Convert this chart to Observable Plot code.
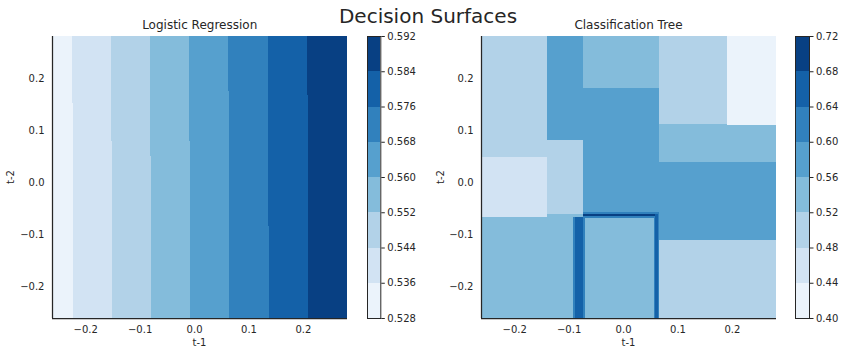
<!DOCTYPE html>
<html><head><meta charset="utf-8">
<script src="https://cdn.jsdelivr.net/npm/d3@7"></script>
<script src="https://cdn.jsdelivr.net/npm/@observablehq/plot@0.6"></script>
<style>
body{margin:0;background:#fff;font-family:"DejaVu Sans",sans-serif;color:#262626}
#chart{position:relative;width:844px;height:356px;overflow:hidden;background:#fff}
.lbl{position:absolute;transform:translate(-50%,-50%);white-space:nowrap;line-height:1;color:#262626;font-family:"DejaVu Sans",sans-serif}
</style></head><body><div id="chart"></div>
<script>
// ---- data ----
const axisLimits = [-0.261, 0.281];
const axisTicks = [-0.2, -0.1, 0, 0.1, 0.2];
const blues8 = ["#ebf3fb","#d2e3f3","#b2d2e8","#84bcdb","#56a0ce","#3181bd","#1461a8","#084083"];

// Logistic regression: contour levels and, for each inner level (0.536 … 0.584),
// its t-1 position in the upper part and lower part, and the t-2 where it steps.
const lrLevels = [0.528, 0.536, 0.544, 0.552, 0.560, 0.568, 0.576, 0.584, 0.592];
const lrTopX    = [-0.2243, -0.1531, -0.0814, -0.0097, 0.0619, 0.1355, 0.2066];
const lrBottomX = [-0.2230, -0.1513, -0.0796, -0.0079, 0.0651, 0.1373, 0.2090];
const lrStepY   = [0.1525, 0.0794, 0.0506, 0.0788, 0.1756, -0.0846, 0.1673];

// Classification tree: contour levels and leaf regions [t1 from, t1 to, t2 from, t2 to, probability]
const treeLevels = [0.40, 0.44, 0.48, 0.52, 0.56, 0.60, 0.64, 0.68, 0.72];
const treeLeaves = [
  [-0.261, -0.0736, -0.261, -0.062, 0.54],
  [-0.261, -0.139, -0.066, 0.0487, 0.46],
  [-0.261, -0.139, 0.0487, 0.281, 0.50],
  [-0.139, -0.0736, -0.062, 0.082, 0.50],
  [-0.139, -0.0736, 0.082, 0.281, 0.58],
  [-0.0736, 0.0657, -0.0577, 0.1813, 0.58],
  [-0.0736, 0.0657, 0.1813, 0.281, 0.54],
  [0.0657, 0.281, -0.1102, 0.0385, 0.58],
  [0.0657, 0.281, 0.0385, 0.1115, 0.54],
  [0.0657, 0.1914, 0.1115, 0.281, 0.50],
  [0.1914, 0.281, 0.1096, 0.281, 0.42],
  [0.0668, 0.281, -0.261, -0.1102, 0.50],
  [-0.0705, 0.0570, -0.261, -0.0679, 0.54],
  [-0.0914, -0.0705, -0.261, -0.0667, 0.62],
  [-0.0878, -0.0742, -0.261, -0.0667, 0.66],
  [-0.0736, 0.0668, -0.0679, -0.0577, 0.62],
  [0.0570, 0.0668, -0.261, -0.0577, 0.62],
  [-0.0736, 0.0638, -0.0654, -0.0610, 0.70],
  [0.0589, 0.0638, -0.261, -0.0610, 0.66]
];

// ---- build tables ----
const mid = (lv, i) => (lv[i] + lv[i + 1]) / 2;
const lrRects = [{x1: axisLimits[0], x2: axisLimits[1], y1: axisLimits[0], y2: axisLimits[1], p: mid(lrLevels, 0)}];
lrTopX.forEach((x, i) => {
  const p = mid(lrLevels, i + 1);
  lrRects.push({x1: x, x2: axisLimits[1], y1: lrStepY[i], y2: axisLimits[1], p});
  lrRects.push({x1: lrBottomX[i], x2: axisLimits[1], y1: axisLimits[0], y2: lrStepY[i], p});
});
const treeRects = treeLeaves.map(([x1, x2, y1, y2, p]) => ({x1, x2, y1, y2, p}));

const chart = document.getElementById("chart");
const TXT = "#262626";
const baseStyle = {fontFamily: "DejaVu Sans", fontSize: "10px", color: TXT, background: "transparent", overflow: "visible"};

function place(el, left) {
  el.style.position = "absolute";
  el.style.left = left + "px";
  el.style.top = "0px";
  chart.appendChild(el);
}
function label(text, x, y, size, rotate) {
  const d = document.createElement("div");
  d.className = "lbl";
  d.textContent = text;
  d.style.left = x + "px";
  d.style.top = y + "px";
  d.style.fontSize = size + "px";
  if (rotate) d.style.transform = "translate(-50%,-50%) rotate(-90deg)";
  chart.appendChild(d);
}

function surface(left, rects, levels) {
  const svg = Plot.plot({
    width: 360, height: 356,
    marginLeft: 52, marginRight: 13, marginTop: 36, marginBottom: 38,
    style: baseStyle,
    x: {domain: axisLimits, label: null},
    y: {domain: axisLimits, label: null},
    color: {type: "threshold", domain: levels.slice(1, -1), range: blues8},
    marks: [
      Plot.rect(rects, {x1: "x1", x2: "x2", y1: "y1", y2: "y2", fill: "p", shapeRendering: "crispEdges"}),
      Plot.axisX({ticks: axisTicks, tickFormat: ".1f", tickSize: 0, tickPadding: 7, label: null}),
      Plot.axisY({ticks: axisTicks, tickFormat: ".1f", tickSize: 0, tickPadding: 8, label: null}),
      Plot.ruleX([axisLimits[0]], {stroke: TXT, strokeWidth: 1.25}),
      Plot.ruleY([axisLimits[0]], {stroke: TXT, strokeWidth: 1.25})
    ]
  });
  place(svg, left);
}

function colorbar(left, width, marginLeft, barWidth, levels, fmt) {
  const bands = d3.range(levels.length - 1).map(i => ({y1: levels[i], y2: levels[i + 1], p: mid(levels, i)}));
  const svg = Plot.plot({
    width, height: 356,
    marginLeft, marginRight: width - marginLeft - barWidth, marginTop: 36, marginBottom: 38,
    style: baseStyle,
    y: {domain: [levels[0], levels[levels.length - 1]], label: null},
    color: {type: "threshold", domain: levels.slice(1, -1), range: blues8},
    marks: [
      Plot.barY(bands, {y1: "y1", y2: "y2", fill: "p", shapeRendering: "crispEdges"}),
      Plot.frame({stroke: TXT, strokeWidth: 1}),
      Plot.axisY({anchor: "right", ticks: levels, tickFormat: fmt, tickSize: 3.5, tickPadding: 3, label: null, stroke: TXT})
    ]
  });
  place(svg, left);
}

surface(0, lrRects, lrLevels);
colorbar(355, 65, 12, 13.3, lrLevels, ".3f");
surface(429, treeRects, treeLevels);
colorbar(784, 60, 11, 14, treeLevels, ".2f");

label("Decision Surfaces", 428, 15.5, 20);
label("Logistic Regression", 199.7, 25, 12);
label("Classification Tree", 628.5, 25, 12);
label("t-1", 199.5, 343, 10);
label("t-1", 628.5, 343, 10);
label("t-2", 11, 177, 10, true);
label("t-2", 440.5, 177, 10, true);
</script>
</body></html>
